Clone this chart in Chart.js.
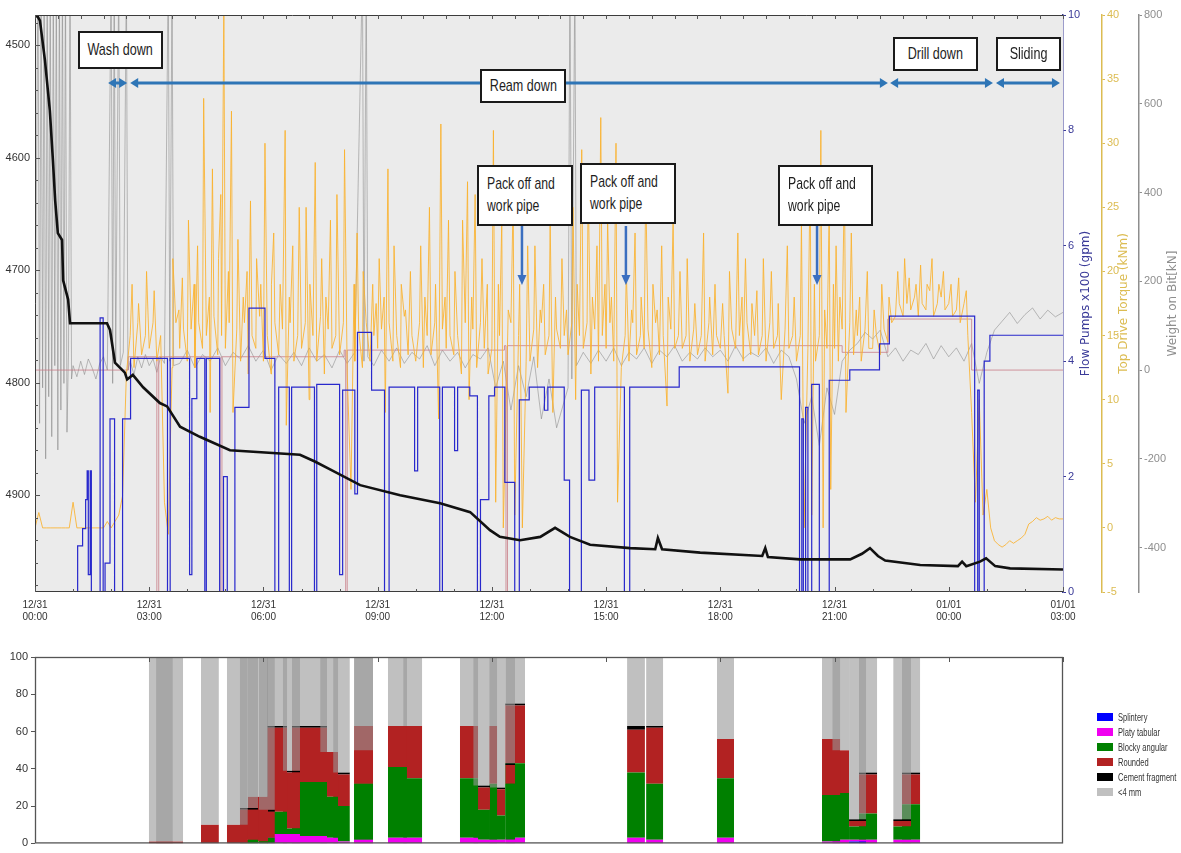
<!DOCTYPE html>
<html>
<head>
<meta charset="utf-8">
<script src="https://cdn.jsdelivr.net/npm/chart.js@4.4.1/dist/chart.umd.min.js"></script>
<style>
html,body{margin:0;padding:0;background:#fff;width:1181px;height:853px;overflow:hidden;}
#wrap{position:relative;width:1181px;height:853px;}
canvas{position:absolute;left:0;}
#top{top:0;}
#bot{top:640px;}
.box{position:absolute;background:#fff;border:2px solid #1a1a1a;box-sizing:border-box;white-space:nowrap;
 font-family:'Liberation Sans',Arial,sans-serif;color:#1e1e1e;font-size:17px;line-height:22px;}
.c{display:flex;align-items:center;justify-content:center;}
.c span{display:inline-block;transform:scaleX(0.74);transform-origin:center;}
.p{padding:6px 0 0 8px;}
.p span{display:block;transform:scaleX(0.72);transform-origin:left top;}
#legend{position:absolute;left:1097px;top:709px;font-family:'Liberation Sans',Arial,sans-serif;font-size:10.5px;color:#333;white-space:nowrap;}
.li{height:15px;display:flex;align-items:center;}
.sw{width:16px;height:8px;margin-right:5px;flex:none;}
.lt{display:inline-block;transform:scaleX(0.72);transform-origin:left center;}
</style>
</head>
<body>
<div id="wrap">
<canvas id="top" width="1181" height="640" style="width:1181px;height:640px"></canvas>
<canvas id="bot" width="1181" height="213" style="width:1181px;height:213px"></canvas>
<div class="box c" style="left:78px;top:31px;width:85px;height:38px"><span>Wash down</span></div>
<div class="box c" style="left:480px;top:69px;width:86px;height:34px"><span>Ream down</span></div>
<div class="box c" style="left:893px;top:37px;width:85px;height:34px"><span>Drill down</span></div>
<div class="box c" style="left:996px;top:37px;width:65px;height:34px"><span>Sliding</span></div>
<div class="box p" style="left:477px;top:165px;width:96px;height:61px"><span>Pack off and<br>work pipe</span></div>
<div class="box p" style="left:580px;top:163px;width:96px;height:61px"><span>Pack off and<br>work pipe</span></div>
<div class="box p" style="left:778px;top:165px;width:95px;height:61px"><span>Pack off and<br>work pipe</span></div>
<div id="legend"></div>
</div>
<script>
// ---------------- DATA ----------------
const xTickHours = [0,3,6,9,12,15,18,21,24,27];
const depthTicks = [4500,4600,4700,4800,4900];
const flowTicks = [0,2,4,6,8,10];
const torqueTicks = [-5,0,5,10,15,20,25,30,35,40];
const wobTicks = [-400,-200,0,200,400,600,800];
const pctTicks = [0,20,40,60,80,100];

// bit depth [hours, m]
const depthSeries = [[0,4473],[0.08,4475],[0.13,4478],[0.26,4513],[0.39,4558],[0.47,4602],[0.53,4638],[0.6,4667],[0.71,4673],[0.74,4709],[0.87,4726],[0.92,4747],[1.89,4747],[1.97,4753],[2.10,4782],[2.36,4791],[2.42,4797],[2.57,4793],[2.84,4804],[3.28,4818],[3.47,4821],[3.81,4839],[4.33,4848],[5.12,4860],[6.96,4864],[7.35,4870],[7.75,4877],[8.54,4891],[9.59,4900],[10.64,4907],[11.43,4915],[11.95,4931],[12.21,4937],[12.74,4940],[13.27,4937],[13.66,4929],[14.05,4937],[14.58,4944],[15.63,4947],[16.29,4948],[16.36,4938],[16.47,4948],[17.47,4951],[19.1,4954],[19.18,4947],[19.25,4955],[20.09,4957],[21.41,4957],[21.72,4952],[21.93,4947],[22.14,4954],[22.33,4958],[23.25,4962],[24.24,4963],[24.35,4959],[24.46,4963],[24.82,4959],[24.98,4956],[25.22,4963],[25.61,4965],[27,4966]];

// flow pumps x100 gpm [hours, value] (value holds until next point)
const flowSeries = [[0,0],[1.12,0.8],[1.25,1.1],[1.33,1.6],[1.37,2.1],[1.40,0.3],[1.45,2.1],[1.48,0],[1.71,4.75],[1.79,0],[1.84,0.5],[1.97,3.0],[2.09,0],[2.30,3.0],[2.51,4.05],[3.48,0],[3.55,4.05],[4.06,0.3],[4.12,3.35],[4.25,4.05],[4.46,0],[4.50,4.05],[4.85,0],[4.95,2.0],[5.05,0],[5.25,3.2],[5.62,4.92],[6.04,4.05],[6.30,0],[6.40,3.55],[6.68,0],[6.74,3.55],[7.34,0],[7.40,3.6],[8.0,0.3],[8.08,3.5],[8.40,1.7],[8.47,4.5],[8.84,3.5],[9.18,0],[9.30,3.55],[9.97,2.1],[10.05,3.55],[10.63,0],[10.70,3.55],[11.02,2.45],[11.10,3.55],[11.42,3.4],[11.62,0],[11.70,1.6],[11.92,3.4],[12.07,3.55],[12.34,1.9],[12.60,0],[12.72,3.33],[12.98,3.55],[13.38,3.15],[13.47,3.55],[13.90,1.94],[14.04,0],[14.35,3.5],[14.55,1.94],[14.70,3.55],[15.48,0],[15.62,3.55],[16.92,3.9],[20.08,0],[20.14,3.0],[20.18,0],[20.24,3.2],[20.30,0],[20.40,3.6],[20.60,0],[20.86,3.67],[21.40,3.85],[22.18,4.3],[22.44,4.78],[24.68,0],[24.76,3.5],[24.80,0],[24.93,4.0],[25.08,4.45],[27,4.45]];

// top drive torque kNm: regular readings every 0.1 h from 00:00 ...
const torqueStepHours = 0.1;
const torqueBase = [
0,1.2,0,0,0,0,0,0,0,0,
2.0,0,0,0,0,0,0,0,0,0.5,
0,0.5,1,2.5,12,15,12.5,16,13.5,15,
14,16,13,15,2,-0.5,12.5,16,14,15.5,
13,15.5,12.5,16,14,15,9,16.5,13.5,15,
14,16,9,15.5,13,16,12,15,14,16.5,
13,15,12,16,13.5,15.5,8,16,13,15,
14,16,10,15,13,16.5,12,15.5,14,15,
13.5,16,12,3,13,15.5,12.5,16,13,15,
14,15.5,9,16,13,15,12.5,16.5,13.5,15,
13,16,12.5,15,13.5,16,8.5,15.5,14,15,
13.5,15,12,16,10,15.5,12.5,16,14,12,
14,2,15,0,13,16,1,15,0,13,
13,15.5,12.5,16,13.5,15,9,15.5,14,15,
13.5,16,10,15,14,16,12,15.5,13,15,
14,16,13,2,12.5,15,13,16,13.5,15,
14,15.5,12.5,16,13.5,15,9.5,15.5,14,15,
14,15,13,15.5,13.5,15,13,16,13.5,15,
14,15,10.5,15.5,14,15,13,16,13.5,15,
13.5,15,13,16,14,15,10,15.5,14,15,
13,15,0,14,1,13,15,0,14,3,
14,13,15.5,9,16,13.5,15,13,15.5,14,
14,15,13.5,15.5,14.5,16,16.5,17.5,16.5,17.5,
17,18,16.5,17.5,17,18.5,16.5,17.5,18,17,
17.5,16.5,17,16,17.5,15,9,2,10,1,
3,0,-1,-1.3,-1.5,-1.3,-1,-1.2,-1,-0.8,
-0.5,0.3,0.5,0.8,0.6,0.7,0.9,0.6,0.8,0.7,
0.7];
// ... plus the short torque peaks between them [hours, kNm]
const torquePeaks = [[2.55,19],[2.72,17.5],[2.93,20],[3.13,18.5],[3.62,21],[3.78,17],[3.87,19.5],
[4.03,24],[4.18,19],[4.27,22],[4.43,33.5],[4.58,18],[4.66,28],[4.82,21],[4.88,26],[4.96,41],
[5.08,20],[5.16,32.5],[5.33,22.5],[5.47,18],[5.57,20],[5.66,25.5],[5.82,21],[5.93,19],
[6.04,30],[6.21,19],[6.27,23],[6.44,19],[6.57,31],[6.68,18],[6.77,22],[6.94,25],
[7.12,25],[7.22,19],[7.36,28.5],[7.53,21],[7.64,18],[7.76,24],[7.93,26],
[8.13,29.5],[8.38,19],[8.46,23],[8.62,20],[8.87,19],[8.96,17.5],
[9.04,21],[9.17,18],[9.27,28],[9.43,22],[9.62,19],[9.73,17],[9.86,20],
[10.13,22],[10.24,18],[10.36,25],[10.52,19],[10.66,31.5],[10.77,18],[10.86,24],
[11.03,20],[11.23,24],[11.36,27],[11.47,18],[11.56,26],[11.74,21],[11.88,19],
[12.04,31],[12.17,19],[12.26,24],[12.43,17],[12.56,26],[12.73,19],[12.94,22],
[13.13,22],[13.27,17],[13.36,19],[13.53,24],[13.67,18],[13.84,21],[13.96,17],
[14.13,25],[14.24,19],[14.36,29.5],[14.53,27],[14.64,18],[14.76,22],[14.86,32],[14.97,19],
[15.04,24],[15.14,18],[15.26,30],[15.53,20],[15.67,17],[15.76,23],[15.92,18],
[16.04,27],[16.23,19],[16.34,17],[16.46,22],[16.63,18],[16.76,24],[16.94,20],
[17.13,21],[17.33,17.5],[17.56,23],[17.72,18],[17.86,19],
[18.06,17.5],[18.24,20],[18.46,23],[18.57,18],[18.66,21],[18.83,17.5],[18.96,18.5],
[19.13,21],[19.34,20],[19.52,17.5],[19.76,22],[19.94,18],
[20.13,24],[20.36,28],[20.47,19],[20.64,31],[20.74,17],[20.86,25],[20.97,19],
[21.04,22],[21.14,18],[21.26,27.5],[21.44,23],[21.57,17],[21.66,18],[21.86,20],
[22.04,17],[22.24,19],[22.43,18],[22.66,20],[22.84,21],[22.96,19.5],
[23.14,19],[23.26,20.5],[23.43,19],[23.56,21],[23.74,19],[23.86,20],
[24.06,19],[24.26,19.5],[24.46,18.5]];

// weight on bit kN [hours, value]
const wobSeries = [[0,0],[0.08,900],[0.12,-120],[0.16,900],[0.2,-40],[0.24,900],[0.28,-200],[0.32,900],[0.36,-60],[0.4,900],[0.44,-150],[0.48,900],[0.52,10],[0.56,900],[0.6,-180],[0.64,900],[0.68,-90],[0.72,900],[0.76,-30],[0.8,900],[0.84,-140],[0.88,40],[0.92,900],[0.96,-20],[1.0,10],[1.1,-15],[1.2,20],[1.3,-10],[1.4,25],[1.5,5],[1.6,-20],[1.7,15],[1.8,30],[1.9,0],[2.0,900],[2.04,-30],[2.08,900],[2.12,20],[2.2,900],[2.24,10],[2.32,40],[2.4,900],[2.44,0],[2.5,20],[2.6,-10],[2.7,30],[2.8,5],[2.9,35],[3.0,10],[3.1,25],[3.2,-5],[3.3,30],[3.4,15],[3.5,900],[3.54,20],[3.6,900],[3.64,10],[3.8,15],[4.0,45],[4.2,5],[4.4,35],[4.6,20],[4.8,50],[5.0,10],[5.2,40],[5.4,25],[5.6,55],[5.8,20],[6.0,45],[6.2,0],[6.4,35],[6.6,15],[6.8,40],[7.0,10],[7.2,50],[7.4,20],[7.6,35],[7.8,5],[8.0,45],[8.2,15],[8.4,40],[8.6,900],[8.64,20],[8.7,900],[8.74,30],[8.9,10],[9.1,45],[9.3,20],[9.5,50],[9.7,15],[9.9,40],[10.1,25],[10.3,55],[10.5,10],[10.7,45],[10.9,20],[11.1,40],[11.3,5],[11.5,35],[11.7,25],[11.9,50],[12.1,-40],[12.3,20],[12.5,-90],[12.7,10],[12.9,-60],[13.1,30],[13.3,-110],[13.5,-20],[13.7,-130],[14.0,-40],[14.05,900],[14.1,-20],[14.18,900],[14.22,10],[14.4,40],[14.6,15],[14.8,45],[15.0,20],[15.2,50],[15.4,10],[15.6,40],[15.8,25],[16.0,50],[16.2,15],[16.4,45],[16.6,30],[16.8,55],[17.0,20],[17.2,40],[17.4,25],[17.6,50],[17.8,30],[18.0,45],[18.2,20],[18.4,55],[18.6,25],[18.8,40],[19.0,30],[19.2,50],[19.4,15],[19.6,45],[19.8,30],[20.0,-20],[20.2,-120],[20.4,-60],[20.6,-170],[20.8,-40],[21.0,-100],[21.2,20],[21.4,45],[21.6,60],[21.8,85],[22.0,70],[22.2,90],[22.4,30],[22.6,50],[22.8,20],[23.0,45],[23.2,35],[23.4,60],[23.6,25],[23.8,55],[24.0,30],[24.2,50],[24.4,20],[24.6,60],[24.8,-30],[25.0,40],[25.2,90],[25.4,110],[25.6,130],[25.8,105],[26.0,125],[26.2,140],[26.4,115],[26.6,135],[26.8,120],[27.0,130]];

// thin rose trace on the WOB scale [hours, value]
const roseSeries = [[0,0],[2.45,30],[3.2,-500],[3.25,30],[4.86,-500],[4.91,30],[8.12,45],[8.16,-500],[8.2,45],[12.33,55],[12.37,-500],[12.41,55],[21.2,40],[22.4,115],[24.6,0],[27,0]];

// operation phases
const phaseNames = ['Wash down','Ream down','Drill down','Sliding'];
const phaseStart = [1.92, 2.50, 22.46, 25.24];
const phaseEnd   = [2.42, 22.40, 25.16, 26.92];
const packOffHours = [12.79, 15.52, 20.54];

// cuttings samples (hours) and composition (%)
const cutStart = [2.99,3.18,4.36,5.04,5.38,5.59,5.88,6.09,6.51,6.75,7.49,7.83,8.38,8.38,9.27,9.67,11.16,11.51,11.93,11.95,12.35,12.35,15.55,16.05,17.91,20.67,20.94,21.38,21.64,22.54,22.77];
const cutEnd   = [3.62,3.89,4.83,5.59,5.86,6.12,6.30,6.62,6.96,7.67,7.96,8.27,8.88,8.88,9.77,10.17,11.64,11.95,12.14,12.35,12.61,12.87,16.02,16.50,18.36,21.15,21.38,21.83,22.12,23.01,23.25];
const splintery = [0,0,0,0,0,0,0,0,0,0,0,0,0,0,0,0,0,0,0,0,0,0,0,0,0,0,0,1,0,0,0];
const platy     = [0,0,0,0,0,0,0,5,5,4,3,1,2,2,3,3,3,2,2,2,2,3,3,2,3,1,2,1,2,2,2];
const blocky    = [0,0,0,0,2,1,3,12,3,29,22,19,30,30,38,32,32,16,30,13,30,40,35,30,32,25,25,7,14,7,19];
const rounded   = [1,1,10,10,16,24,14,45,30,29,24,17,31,18,22,28,28,12,31,14,10,31,23,30,21,30,23,3,21,3,16];
const cement    = [0,0,0,0,1,0,1,1,1,1,0,1,0,0,0,0,0,1,0,1,1,1,2,1,0,0,0,1,1,1,1];
const legendNames = ['Splintery','Platy tabular','Blocky angular','Rounded','Cement fragment','<4 mm'];

// ---------------- STYLE / LAYOUT ----------------
const SANS = "'Liberation Sans', Arial, sans-serif";
const compColors = ['#0000ff','#f000f0','#008000','#b22222','#000000'];
const legendColors = ['#0000ff','#f000f0','#008000','#b22222','#000000','#c0c0c0'];
const greyFill = 'rgba(150,150,150,0.6)';
const ARROW_Y = 83, PACK_Y0 = 226, PACK_Y1 = 285;
const FLOW_C = '#3a3a98', TORQ_C = '#dcbc52', WOB_C = '#8e8e8e';

const toXY = arr => arr.map(([x,y]) => ({x, y}));
const fixTicks = list => s => { s.ticks = list.map(v => ({value: v})); };
const plain = v => String(v);

function hArrow(ctx, x0, x1, y){
  const hl = 8, hw = 5;
  ctx.beginPath(); ctx.moveTo(x0 + hl - 1, y); ctx.lineTo(x1 - hl + 1, y); ctx.stroke();
  ctx.beginPath(); ctx.moveTo(x0, y); ctx.lineTo(x0 + hl, y - hw); ctx.lineTo(x0 + hl, y + hw); ctx.closePath(); ctx.fill();
  ctx.beginPath(); ctx.moveTo(x1, y); ctx.lineTo(x1 - hl, y - hw); ctx.lineTo(x1 - hl, y + hw); ctx.closePath(); ctx.fill();
}

const topDecor = {
  id: 'topDecor',
  beforeDatasetsDraw(chart){
    const {ctx, chartArea: a} = chart;
    ctx.save(); ctx.fillStyle = '#ebebeb';
    ctx.fillRect(a.left, a.top, a.right - a.left, a.bottom - a.top); ctx.restore();
  },
  afterDatasetsDraw(chart){
    const {ctx, chartArea: a, scales} = chart;
    const xs = scales.x, yd = scales.yDepth;
    ctx.save();
    ctx.strokeStyle = '#3c3c3c'; ctx.lineWidth = 1;
    ctx.beginPath();
    ctx.moveTo(a.left + 0.5, a.bottom); ctx.lineTo(a.left + 0.5, a.top + 0.5); ctx.lineTo(a.right, a.top + 0.5);
    ctx.moveTo(a.left, a.bottom - 0.5); ctx.lineTo(a.right, a.bottom - 0.5);
    ctx.stroke();
    ctx.strokeStyle = '#555'; ctx.beginPath();
    for (let h = 0; h <= 27; h++){ const x = Math.round(xs.getPixelForValue(h)) + 0.5; ctx.moveTo(x, a.bottom); ctx.lineTo(x, a.bottom - (h % 3 === 0 ? 5 : 3)); }
    for (let h = 0; h <= 27.01; h += 0.6){ const x = Math.round(xs.getPixelForValue(h)) + 0.5; ctx.moveTo(x, a.top); ctx.lineTo(x, a.top + 4); }
    for (let d = 4480; d <= 4980; d += 20){ const y = Math.round(yd.getPixelForValue(d)) + 0.5; ctx.moveTo(a.left, y); ctx.lineTo(a.left + (d % 100 === 0 ? 5 : 3), y); }
    ctx.stroke();
    ctx.strokeStyle = '#2e75b6'; ctx.fillStyle = '#2e75b6'; ctx.lineWidth = 3;
    for (let i = 0; i < phaseNames.length; i++){
      hArrow(ctx, xs.getPixelForValue(phaseStart[i]), xs.getPixelForValue(phaseEnd[i]), ARROW_Y);
    }
    ctx.strokeStyle = '#3b6fc0'; ctx.fillStyle = '#3b6fc0'; ctx.lineWidth = 2.5;
    packOffHours.forEach(h => {
      const x = xs.getPixelForValue(h);
      ctx.beginPath(); ctx.moveTo(x, PACK_Y0); ctx.lineTo(x, PACK_Y1 - 8); ctx.stroke();
      ctx.beginPath(); ctx.moveTo(x - 4.5, PACK_Y1 - 10); ctx.lineTo(x + 4.5, PACK_Y1 - 10); ctx.lineTo(x, PACK_Y1); ctx.closePath(); ctx.fill();
    });
    ctx.restore();
  },
  afterDraw(chart){
    const {ctx, chartArea: a, scales} = chart;
    const titles = [['yFlow','Flow Pumps x100 (gpm)',FLOW_C,23],['yTorque','Top Drive Torque (kNm)',TORQ_C,22],['yWob','Weight on Bit[kN]',WOB_C,34]];
    titles.forEach(([id, text, col, off]) => {
      const s = scales[id];
      ctx.save(); ctx.translate(s.left + off, (a.top + a.bottom) / 2); ctx.rotate(-Math.PI / 2);
      ctx.textAlign = 'center'; ctx.textBaseline = 'middle';
      ctx.font = "12px 'DejaVu Sans', sans-serif"; ctx.fillStyle = col; ctx.fillText(text, 0, 0);
      ctx.restore();
    });
  }
};

const tickFont = {family: SANS, size: 11};
const rightAxis = (list, min, max, col, weight, width) => ({
  type: 'linear', position: 'right', min, max, weight,
  afterBuildTicks: fixTicks(list),
  ticks: {font: tickFont, color: col, padding: 2, callback: plain},
  grid: {display: true, drawOnChartArea: false, drawTicks: true, tickLength: 3, color: col},
  border: {display: true, color: col, width: 1.5},
  afterFit: s => { s.width = width; }
});

const torqueData = torqueBase.map((v, i) => ({x: i * torqueStepHours, y: v}))
  .concat(toXY(torquePeaks)).sort((p, q) => p.x - q.x);

new Chart(document.getElementById('top'), {
  type: 'line',
  data: { datasets: [
    {label: 'Bit depth', data: toXY(depthSeries), yAxisID: 'yDepth', borderColor: '#111', borderWidth: 2.6, pointRadius: 0, order: 0},
    {label: 'Flow Pumps', data: toXY(flowSeries), yAxisID: 'yFlow', borderColor: '#2828cc', borderWidth: 1.2, stepped: 'before', pointRadius: 0, order: 1},
    {label: 'Top Drive Torque', data: torqueData, yAxisID: 'yTorque', borderColor: 'rgba(250,178,45,0.85)', borderWidth: 1, pointRadius: 0, order: 2},
    {label: 'Rose trace', data: toXY(roseSeries), yAxisID: 'yWob', borderColor: 'rgba(200,125,135,0.8)', borderWidth: 1, stepped: 'before', pointRadius: 0, order: 3},
    {label: 'Weight on Bit', data: toXY(wobSeries), yAxisID: 'yWob', borderColor: 'rgba(125,125,125,0.5)', borderWidth: 1, pointRadius: 0, order: 4}
  ]},
  options: {
    responsive: false, animation: false, devicePixelRatio: 1, events: [],
    layout: {padding: {top: 15, left: 0, right: 0, bottom: 0}},
    plugins: {legend: {display: false}, tooltip: {enabled: false}},
    scales: {
      x: {type: 'linear', min: 0, max: 27, afterBuildTicks: fixTicks(xTickHours),
          ticks: {font: {family: SANS, size: 10}, color: '#333', maxRotation: 0, autoSkip: false, padding: 7,
                  callback: v => [v < 24 ? '12/31' : '01/01', String(v % 24).padStart(2, '0') + ':00']},
          grid: {display: false, drawTicks: false}, border: {display: false},
          afterFit: s => { s.height = 48; }},
      yDepth: {type: 'linear', position: 'left', reverse: true, min: 4473, max: 4986,
          afterBuildTicks: fixTicks(depthTicks),
          ticks: {font: tickFont, color: '#333', padding: 5, callback: plain},
          grid: {display: false, drawTicks: false}, border: {display: false},
          afterFit: s => { s.width = 35; }},
      yFlow: rightAxis(flowTicks, 0, 10, FLOW_C, 0, 39),
      yTorque: rightAxis(torqueTicks, -5, 40, TORQ_C, 1, 37),
      yWob: rightAxis(wobTicks, -500, 800, WOB_C, 2, 42)
    }
  },
  plugins: [topDecor]
});

// ---------------- bottom chart ----------------
function rect(x0, x1, lo, hi, color, order){
  return {data: [{x: x0, y: hi}, {x: x1, y: hi}], fill: {value: lo}, backgroundColor: color,
          borderColor: 'rgba(0,0,0,0)', borderWidth: 0, pointRadius: 0, order};
}
const barSets = [];
for (let i = 0; i < cutStart.length; i++){
  const comps = [splintery[i], platy[i], blocky[i], rounded[i], cement[i]];
  let base = 0;
  comps.forEach((v, k) => { if (v > 0){ barSets.push(rect(cutStart[i], cutEnd[i], base, base + v, compColors[k], 1)); base += v; } });
  barSets.push(rect(cutStart[i], cutEnd[i], base, 100, greyFill, 0));
}

const botDecor = {
  id: 'botDecor',
  afterDatasetsDraw(chart){
    const {ctx, chartArea: a, scales} = chart;
    ctx.save(); ctx.strokeStyle = '#555'; ctx.lineWidth = 1.3;
    ctx.strokeRect(a.left + 0.5, a.top + 0.5, a.right - a.left - 1, a.bottom - a.top - 1);
    ctx.lineWidth = 1; ctx.beginPath();
    xTickHours.forEach(h => { const x = Math.round(scales.x.getPixelForValue(h)) + 0.5; ctx.moveTo(x, a.top); ctx.lineTo(x, a.top + 5); });
    ctx.stroke(); ctx.restore();
  }
};

new Chart(document.getElementById('bot'), {
  type: 'line',
  data: {datasets: barSets},
  options: {
    responsive: false, animation: false, devicePixelRatio: 1, events: [],
    layout: {padding: {top: 17, left: 0, right: 118, bottom: 0}},
    plugins: {legend: {display: false}, tooltip: {enabled: false}},
    scales: {
      x: {type: 'linear', min: 0, max: 27, ticks: {display: false}, grid: {display: false, drawTicks: false},
          border: {display: false}, afterFit: s => { s.height = 2; }},
      y: {type: 'linear', min: 0, max: 100, afterBuildTicks: fixTicks(pctTicks),
          ticks: {font: tickFont, color: '#333', padding: 3, callback: plain},
          grid: {display: true, drawOnChartArea: false, drawTicks: true, tickLength: 4, color: '#555'},
          border: {display: false}, afterFit: s => { s.width = 35; }}
    }
  },
  plugins: [botDecor]
});

// legend
const lg = document.getElementById('legend');
legendNames.forEach((n, i) => {
  const row = document.createElement('div'); row.className = 'li';
  const sw = document.createElement('span'); sw.className = 'sw'; sw.style.background = legendColors[i];
  const tx = document.createElement('span'); tx.className = 'lt'; tx.textContent = n;
  row.appendChild(sw); row.appendChild(tx); lg.appendChild(row);
});
</script>
</body>
</html>
